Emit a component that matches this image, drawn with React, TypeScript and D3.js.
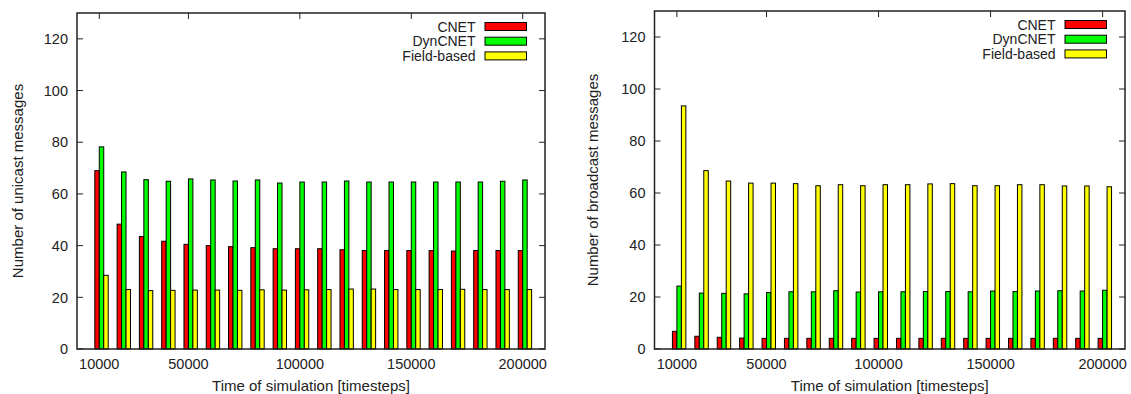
// Unicast / broadcast message counts over simulation time - two clustered bar panels
import React, { useEffect, useRef } from 'react';
import * as d3 from 'd3';

const timesteps = [10000, 20000, 30000, 40000, 50000, 60000, 70000, 80000, 90000, 100000,
  110000, 120000, 130000, 140000, 150000, 160000, 170000, 180000, 190000, 200000];
const xTickLabels = ['10000', '50000', '100000', '150000', '200000'];
const yTicks = [0, 20, 40, 60, 80, 100, 120];
const seriesNames = ['CNET', 'DynCNET', 'Field-based'];
const seriesColors = ['#ff0000', '#00ff00', '#ffff00'];

// unicast panel
const unicastCnet = [69.0, 48.3, 43.5, 41.7, 40.5, 40.0, 39.6, 39.2, 38.8, 38.8, 38.8, 38.4, 38.1, 38.1, 38.1, 38.1, 37.9, 38.1, 38.1, 38.1];
const unicastDynCnet = [78.2, 68.5, 65.5, 64.9, 65.8, 65.4, 65.0, 65.4, 64.2, 64.6, 64.6, 65.0, 64.6, 64.6, 64.6, 64.6, 64.6, 64.6, 64.9, 65.4];
const unicastField = [28.5, 23.0, 22.6, 22.7, 22.8, 22.8, 22.7, 22.9, 22.8, 22.9, 23.0, 23.2, 23.2, 23.0, 23.0, 23.0, 23.1, 23.0, 23.0, 23.0];

// broadcast panel
const broadcastCnet = [6.8, 4.9, 4.5, 4.2, 4.1, 4.1, 4.1, 4.1, 4.1, 4.1, 4.1, 4.1, 4.1, 4.1, 4.1, 4.1, 4.1, 4.1, 4.1, 4.1];
const broadcastDynCnet = [24.2, 21.5, 21.4, 21.2, 21.7, 22.0, 22.0, 22.4, 21.9, 22.0, 22.0, 22.1, 22.1, 22.0, 22.3, 22.1, 22.3, 22.4, 22.3, 22.6];
const broadcastField = [93.5, 68.6, 64.6, 63.8, 63.8, 63.6, 62.8, 63.2, 62.8, 63.2, 63.2, 63.5, 63.6, 62.8, 62.8, 63.2, 63.2, 62.7, 62.7, 62.4];

const FONT = '"Liberation Sans", Arial, sans-serif';

export default function App() {
  const svgRef = useRef<SVGSVGElement>(null);

  useEffect(() => {
    if (!svgRef.current) return;
    const svg = d3.select(svgRef.current);
    svg.selectAll('*').remove();

    const panels = [
      { left: 77, right: 545, top: 13, bottom: 349, ylabel: 'Number of unicast messages', ylabelX: 18,
        series: [unicastCnet, unicastDynCnet, unicastField] },
      { left: 654.5, right: 1125, top: 11, bottom: 349, ylabel: 'Number of broadcast messages', ylabelX: 593,
        series: [broadcastCnet, broadcastDynCnet, broadcastField] }
    ];

    panels.forEach(p => {
      const g = svg.append('g');
      const x = d3.scaleLinear().domain([-1, timesteps.length]).range([p.left, p.right]);
      const y = d3.scaleLinear().domain([0, 130]).range([p.bottom, p.top]);
      const tickLen = 6;

      // y ticks (left + mirrored right) and labels
      yTicks.forEach(t => {
        g.append('line')
          .attr('x1', p.left).attr('x2', p.left + tickLen)
          .attr('y1', y(t)).attr('y2', y(t))
          .attr('stroke', '#222').attr('stroke-width', 1);
        g.append('line')
          .attr('x1', p.right).attr('x2', p.right - tickLen)
          .attr('y1', y(t)).attr('y2', y(t))
          .attr('stroke', '#222').attr('stroke-width', 1);
        g.append('text')
          .attr('x', p.left - 9)
          .attr('y', y(t))
          .attr('dy', '0.36em')
          .attr('text-anchor', 'end')
          .attr('font-family', FONT)
          .attr('font-size', '14.5px')
          .attr('fill', '#222')
          .text(t);
      });

      // x ticks (bottom + mirrored top) and labels
      xTickLabels.forEach(lbl => {
        const i = timesteps.indexOf(+lbl);
        g.append('line')
          .attr('x1', x(i)).attr('x2', x(i))
          .attr('y1', p.top).attr('y2', p.top + tickLen)
          .attr('stroke', '#222').attr('stroke-width', 1);
        g.append('line')
          .attr('x1', x(i)).attr('x2', x(i))
          .attr('y1', p.bottom).attr('y2', p.bottom - tickLen)
          .attr('stroke', '#222').attr('stroke-width', 1);
        g.append('text')
          .attr('x', x(i))
          .attr('y', 368.5)
          .attr('text-anchor', 'middle')
          .attr('font-family', FONT)
          .attr('font-size', '14.5px')
          .attr('fill', '#222')
          .text(lbl);
      });

      // bars
      p.series.forEach((vals, k) => {
        g.selectAll(null)
          .data(vals)
          .enter()
          .append('rect')
          .attr('x', (d, i) => x(i - 0.2 + k * 0.2))
          .attr('width', x(0.2) - x(0))
          .attr('y', d => y(d))
          .attr('height', d => y(0) - y(d))
          .attr('fill', seriesColors[k])
          .attr('stroke', '#000')
          .attr('stroke-width', 1);
      });

      // frame
      g.append('rect')
        .attr('x', p.left).attr('y', p.top)
        .attr('width', p.right - p.left).attr('height', p.bottom - p.top)
        .attr('fill', 'none')
        .attr('stroke', '#222')
        .attr('stroke-width', 1.5);

      // legend
      seriesNames.forEach((name, k) => {
        const ly = p.top + 13.5 + k * 14.7;
        g.append('text')
          .attr('x', p.right - 69.5)
          .attr('y', ly)
          .attr('dy', '0.36em')
          .attr('text-anchor', 'end')
          .attr('font-family', FONT)
          .attr('font-size', '14px')
          .attr('fill', '#222')
          .text(name);
        g.append('rect')
          .attr('x', p.right - 60).attr('y', ly - 4)
          .attr('width', 41.5).attr('height', 8)
          .attr('fill', seriesColors[k])
          .attr('stroke', '#000')
          .attr('stroke-width', 1);
      });

      // axis titles
      g.append('text')
        .attr('x', (p.left + p.right) / 2)
        .attr('y', 391)
        .attr('text-anchor', 'middle')
        .attr('font-family', FONT)
        .attr('font-size', '15px')
        .attr('fill', '#222')
        .text('Time of simulation [timesteps]');

      g.append('text')
        .attr('transform', `translate(${p.ylabelX},${(p.top + p.bottom) / 2}) rotate(-90)`)
        .attr('dy', '0.36em')
        .attr('text-anchor', 'middle')
        .attr('font-family', FONT)
        .attr('font-size', '15px')
        .attr('fill', '#222')
        .text(p.ylabel);
    });
  }, []);

  return (
    <svg
      ref={svgRef}
      width={1131}
      height={394}
      style={{ position: 'absolute', left: 0, top: 0, background: '#fff' }}
    />
  );
}
